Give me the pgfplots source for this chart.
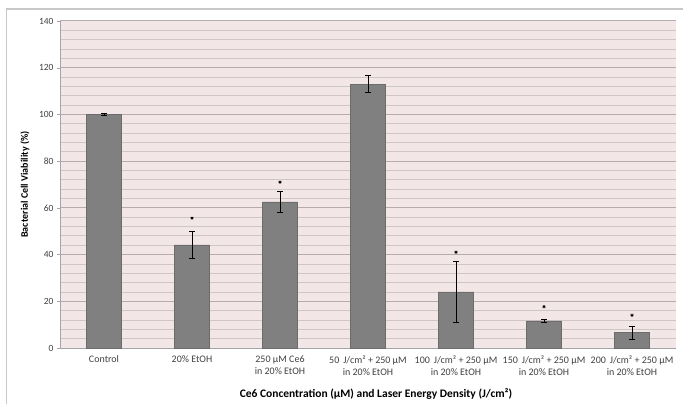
\documentclass[border=0pt]{standalone}
\usepackage{pgfplots}
\pgfplotsset{compat=1.18}
\usepackage{fontspec}
\setmainfont{Carlito}
\definecolor{bgpink}{HTML}{F2E6E6}
\definecolor{gridminor}{HTML}{CFC6C6}
\definecolor{gridmajor}{HTML}{B5ADAD}
\definecolor{barfill}{HTML}{808080}
\definecolor{ticktext}{HTML}{404040}
\definecolor{framegray}{HTML}{C8C8C8}
\begin{document}
\begin{tikzpicture}[x=1bp,y=1bp]
\useasboundingbox (0,0) rectangle (683,403);
\draw[framegray, line width=1.2bp] (6.5,-20) -- (6.5,394) -- (720,394);
\begin{axis}[
  at={(60bp,55bp)}, anchor=south west,
  scale only axis, width=616bp, height=327bp,
  xmin=-0.5, xmax=6.5, ymin=0, ymax=140,
  axis background/.style={fill=bgpink},
  axis x line=bottom, axis y line=left,
  axis line style={-, draw=gray!70, line width=0.8bp},
  ytick={0,20,...,140}, minor y tick num=4,
  ymajorgrids, yminorgrids,
  major grid style={draw=gridmajor, line width=1bp},
  minor grid style={draw=gridminor, line width=0.8bp},
  tick align=outside,
  major tick length=3bp,
  minor y tick style={draw=none},
  y tick style={draw=gray!70},
  xtick={0,...,6},
  x tick style={draw=none},
  extra x ticks={0.5,1.5,...,5.5},
  extra x tick labels={},
  extra x tick style={grid=none, tick style={draw=gray!70}},
  xticklabels={Control, 20\% EtOH, {250 µM Ce6\\in 20\% EtOH},
    {50\, J/cm² + 250 µM\\in 20\% EtOH},
    {100\, J/cm² + 250 µM\\in 20\% EtOH},
    {150\, J/cm² + 250 µM\\in 20\% EtOH},
    {200\, J/cm² + 250 µM\\in 20\% EtOH}},
  xticklabel style={align=center, font=\fontsize{10bp}{12.5bp}\selectfont, text=ticktext, yshift=-1bp},
  yticklabel style={font=\fontsize{9.5bp}{11bp}\selectfont, text=ticktext},
  /pgf/number format/assume math mode=true,
  xlabel={\textbf{Ce6 Concentration (µM) and Laser Energy Density (J/cm²)}},
  ylabel={\textbf{Bacterial Cell Viability (\%)}},
  xlabel style={at={(axis description cs:0.5,-0.14)}, anchor=center, xshift=8bp, font=\fontsize{11.5bp}{13bp}\selectfont},
  ylabel style={at={(axis description cs:-0.057,0.5)}, anchor=center, font=\fontsize{10bp}{12bp}\selectfont},
  clip=false,
]
\addplot[ybar, bar width=0.4, fill=barfill, draw=gray!85!black, line width=0.3bp,
  error bars/.cd, y dir=both, y explicit,
  error bar style={black, line width=0.7bp},
  error mark options={rotate=90, mark size=3bp, line width=0.7bp, black}]
  coordinates {
  (0,100) +- (0,0.3)
  (1,44.1) +- (0,5.8)
  (2,62.6) +- (0,4.6)
  (3,113.0) +- (0,3.6)
  (4,24.0) +- (0,13.0)
  (5,11.6) +- (0,0.7)
  (6,6.6) +- (0,2.8)
  };
\addplot[only marks, mark=asterisk, mark size=1.6bp, black, line width=0.6bp]
  coordinates {
  (1,55.6) (2,71.0) (4,41.0) (5,17.7) (6,14.0)
  };
\end{axis}
\end{tikzpicture}
\end{document}
